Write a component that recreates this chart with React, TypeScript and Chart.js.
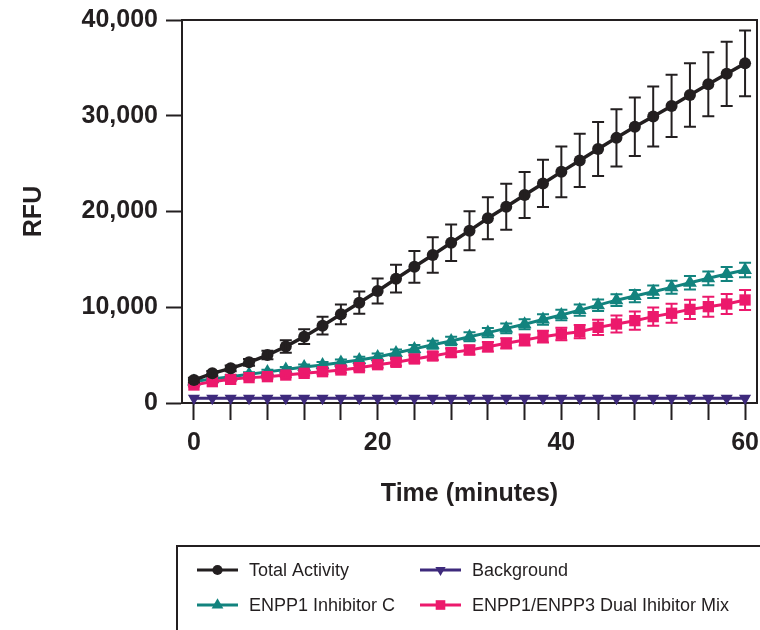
import React, { useEffect, useRef } from 'react';
import { Chart, registerables } from 'chart.js';
import { drawPoint } from 'chart.js/helpers';

Chart.register(...registerables);

// ---- data ----
const timeMinutes = [0, 2, 4, 6, 8, 10, 12, 14, 16, 18, 20, 22, 24, 26, 28, 30, 32, 34, 36, 38, 40, 42, 44, 46, 48, 50, 52, 54, 56, 58, 60];

const totalActivity = [2400, 3100, 3620, 4250, 5010, 5900, 6930, 8080, 9260, 10480, 11700, 12980, 14220, 15460, 16740, 18000, 19290, 20500, 21720, 22930, 24140, 25330, 26530, 27690, 28850, 29920, 31020, 32170, 33280, 34380, 35470];
const totalActivityErr = [250, 250, 300, 350, 450, 660, 770, 920, 1030, 1160, 1300, 1450, 1650, 1850, 1900, 2035, 2190, 2400, 2400, 2470, 2660, 2780, 2830, 3000, 3045, 3130, 3250, 3310, 3340, 3360, 3430];

const inhibitorC = [2250, 2500, 2750, 3000, 3250, 3500, 3750, 3980, 4220, 4480, 4800, 5220, 5650, 6080, 6480, 6920, 7350, 7790, 8220, 8720, 9190, 9700, 10220, 10740, 11170, 11620, 12080, 12560, 13020, 13470, 13890];
const inhibitorCErr = [150, 150, 180, 200, 220, 250, 270, 300, 320, 340, 360, 380, 400, 420, 440, 460, 480, 500, 520, 540, 560, 580, 600, 620, 640, 660, 680, 700, 720, 740, 760];

const dualMix = [1880, 2230, 2470, 2650, 2750, 2920, 3100, 3270, 3450, 3690, 4000, 4250, 4600, 4910, 5260, 5540, 5880, 6230, 6580, 6930, 7200, 7450, 7900, 8250, 8600, 9020, 9370, 9780, 10060, 10340, 10760];
const dualMixErr = [150, 150, 160, 180, 200, 220, 240, 260, 280, 300, 320, 350, 380, 410, 440, 470, 500, 540, 580, 620, 650, 700, 800, 900, 950, 950, 1000, 1000, 1040, 1040, 1050];

const background = [500, 500, 500, 500, 500, 500, 500, 500, 500, 500, 500, 500, 500, 500, 500, 500, 500, 500, 500, 500, 500, 500, 500, 500, 500, 500, 500, 500, 500, 500, 500];

const xTickValues = [0, 4, 8, 12, 16, 20, 24, 28, 32, 36, 40, 44, 48, 52, 56, 60];
const xLabelValues = [0, 20, 40, 60];
const yTickValues = [0, 10000, 20000, 30000, 40000];

const seriesNames = ['Total Activity', 'ENPP1/ENPP3 Dual Ihibitor Mix', 'ENPP1 Inhibitor C', 'Background'];
const xTitle = 'Time (minutes)';
const yTitle = 'RFU';

// ---- styles ----
const INK = '#231f20';
const BLACK = '#231f20';
const TEAL = '#12837e';
const PINK = '#ec196c';
const PURPLE = '#3e2a7c';
const FONT = '"Liberation Sans", Arial, Helvetica, sans-serif';

const toPoints = (ys: number[]) => timeMinutes.map((t, i) => ({ x: t, y: ys[i] }));

const errorBarPlugin = {
  id: 'errorBars',
  afterDatasetDraw(chart: any, args: any) {
    const ds: any = chart.data.datasets[args.index];
    if (!ds.errors) return;
    const yScale = chart.scales.y;
    const ctx = chart.ctx;
    ctx.save();
    ctx.strokeStyle = ds.borderColor;
    ctx.lineWidth = 2;
    args.meta.data.forEach((pt: any, i: number) => {
      const v = ds.data[i].y;
      const e = ds.errors[i];
      const x = pt.x;
      const yTop = yScale.getPixelForValue(v + e);
      const yBot = yScale.getPixelForValue(v - e);
      ctx.beginPath();
      ctx.moveTo(x, yTop);
      ctx.lineTo(x, yBot);
      ctx.moveTo(x - 6, yTop);
      ctx.lineTo(x + 6, yTop);
      ctx.moveTo(x - 6, yBot);
      ctx.lineTo(x + 6, yBot);
      ctx.stroke();
    });
    ctx.restore();
  },
};

const framePlugin = {
  id: 'frame',
  beforeDatasetsDraw(chart: any) {
    const { ctx, chartArea } = chart;
    ctx.save();
    ctx.strokeStyle = INK;
    ctx.lineWidth = 2;
    ctx.beginPath();
    ctx.moveTo(chartArea.left - 1, chartArea.top);
    ctx.lineTo(chartArea.right, chartArea.top);
    ctx.lineTo(chartArea.right, chartArea.bottom + 1);
    ctx.stroke();
    ctx.restore();
  },
};

// legend cells: [datasetIndex, column, row]
const legendCells = [
  [0, 0, 0],
  [3, 1, 0],
  [2, 0, 1],
  [1, 1, 1],
];

const legendPlugin = {
  id: 'boxLegend',
  afterDraw(chart: any) {
    const ctx = chart.ctx;
    ctx.save();
    ctx.strokeStyle = INK;
    ctx.lineWidth = 2;
    ctx.strokeRect(177, 546, 700, 200);
    const colX = [197, 420];
    const rowY = [570, 605];
    legendCells.forEach(([di, c, r]) => {
      const ds: any = chart.data.datasets[di];
      const x0 = colX[c];
      const y = rowY[r];
      ctx.strokeStyle = ds.borderColor;
      ctx.lineWidth = 3;
      ctx.beginPath();
      ctx.moveTo(x0, y);
      ctx.lineTo(x0 + 41, y);
      ctx.stroke();
      ctx.fillStyle = ds.pointBackgroundColor;
      drawPoint(ctx, {
        pointStyle: ds.pointStyle,
        rotation: ds.pointRotation || 0,
        radius: ds.pointRadius * 0.85,
        borderWidth: 0,
      } as any, x0 + 20.5, y);
      ctx.fillStyle = INK;
      ctx.font = `18px ${FONT}`;
      ctx.textBaseline = 'middle';
      ctx.textAlign = 'left';
      ctx.fillText(ds.label, x0 + 52, y + 1);
    });
    ctx.restore();
  },
};

export default function App() {
  const canvasRef = useRef<HTMLCanvasElement | null>(null);

  useEffect(() => {
    document.body.style.margin = '0';
    const canvas = canvasRef.current;
    if (!canvas) return;

    const chart = new Chart(canvas, {
      type: 'line',
      data: {
        datasets: [
          {
            label: seriesNames[0],
            data: toPoints(totalActivity),
            errors: totalActivityErr,
            borderColor: BLACK,
            backgroundColor: BLACK,
            pointBackgroundColor: BLACK,
            borderWidth: 3.5,
            pointStyle: 'circle',
            pointRadius: 6,
            pointBorderWidth: 0,
          } as any,
          {
            label: seriesNames[1],
            data: toPoints(dualMix),
            errors: dualMixErr,
            borderColor: PINK,
            backgroundColor: PINK,
            pointBackgroundColor: PINK,
            borderWidth: 3,
            pointStyle: 'rect',
            pointRadius: 8,
            pointBorderWidth: 0,
          } as any,
          {
            label: seriesNames[2],
            data: toPoints(inhibitorC),
            errors: inhibitorCErr,
            borderColor: TEAL,
            backgroundColor: TEAL,
            pointBackgroundColor: TEAL,
            borderWidth: 3,
            pointStyle: 'triangle',
            pointRadius: 8,
            pointBorderWidth: 0,
          } as any,
          {
            label: seriesNames[3],
            data: toPoints(background),
            borderColor: PURPLE,
            backgroundColor: PURPLE,
            pointBackgroundColor: PURPLE,
            borderWidth: 3,
            pointStyle: 'triangle',
            pointRotation: 180,
            pointRadius: 7,
            pointBorderWidth: 0,
          } as any,
        ],
      },
      options: {
        responsive: false,
        animation: false,
        devicePixelRatio: 1,
        clip: false as any,
        layout: { autoPadding: false, padding: { left: 0, right: 3, top: 20, bottom: 117 } },
        plugins: {
          legend: { display: false },
          tooltip: { enabled: false },
        },
        elements: { line: { tension: 0 } },
        scales: {
          x: {
            type: 'linear',
            min: -1.3,
            max: 61.3,
            afterFit: (scale: any) => {
              scale.height = 110;
              scale.paddingLeft = 0;
              scale.paddingRight = 0;
            },
            afterBuildTicks: (axis: any) => { axis.ticks = xTickValues.map((v) => ({ value: v })); },
            border: { display: true, color: INK, width: 2 },
            grid: { display: true, drawOnChartArea: false, drawTicks: true, tickLength: 17, tickWidth: 2, tickColor: INK },
            ticks: {
              autoSkip: false,
              maxRotation: 0,
              padding: 8,
              color: INK,
              font: { family: FONT, size: 25, weight: 'bold' },
              callback: (v: any) => (xLabelValues.includes(Number(v)) ? String(v) : ''),
            },
            title: {
              display: true,
              text: xTitle,
              color: INK,
              font: { family: FONT, size: 25, weight: 'bold' },
              padding: { top: 0, bottom: 4 },
            },
          },
          y: {
            type: 'linear',
            min: 0,
            max: 40000,
            afterFit: (scale: any) => {
              scale.width = 182;
              scale.paddingTop = 0;
              scale.paddingBottom = 0;
            },
            afterBuildTicks: (axis: any) => { axis.ticks = yTickValues.map((v) => ({ value: v })); },
            border: { display: true, color: INK, width: 2 },
            grid: { display: true, drawOnChartArea: false, drawTicks: true, tickLength: 16, tickWidth: 2, tickColor: INK },
            ticks: {
              padding: 8,
              color: INK,
              font: { family: FONT, size: 25, weight: 'bold' },
              callback: (v: any) => Number(v).toLocaleString('en-US'),
            },
            title: {
              display: true,
              text: yTitle,
              color: INK,
              font: { family: FONT, size: 25, weight: 'bold' },
              padding: { top: 19, bottom: 0 },
            },
          },
        },
      } as any,
      plugins: [framePlugin, errorBarPlugin, legendPlugin],
    });

    return () => chart.destroy();
  }, []);

  return (
    <div style={{ width: 760, height: 630, background: '#fff' }}>
      <canvas ref={canvasRef} width={760} height={630} style={{ display: 'block' }} />
    </div>
  );
}
